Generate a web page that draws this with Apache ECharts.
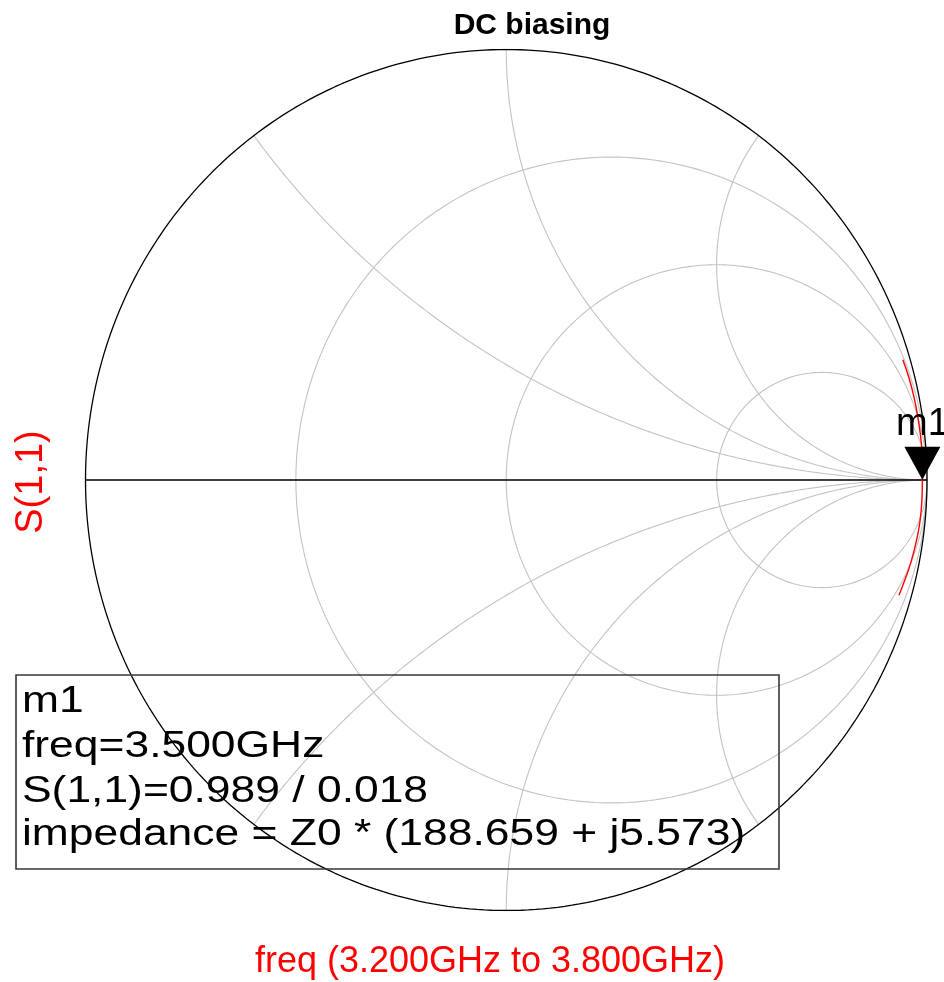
<!DOCTYPE html>
<html>
<head>
<meta charset="utf-8">
<title>DC biasing</title>
<script src="https://cdn.jsdelivr.net/npm/echarts@6/dist/echarts.min.js"></script>
<style>
  html, body { margin: 0; padding: 0; background: #ffffff; }
  #chart { width: 944px; height: 982px; }
</style>
</head>
<body>
<div id="chart"></div>
<script>
// S(1,1) sweep, 3.2 GHz to 3.8 GHz (magnitude, angle in degrees)
const freqGHz   = [3.20, 3.25, 3.30, 3.35, 3.40, 3.45, 3.50, 3.55, 3.60, 3.65, 3.70, 3.75, 3.80];
const s11Mag    = [0.983, 0.986, 0.988, 0.989, 0.990, 0.990, 0.989, 0.989, 0.988, 0.985, 0.981, 0.976, 0.971];
const s11AngDeg = [16.5, 14.0, 11.3, 8.6, 5.8, 2.9, 0.018, -2.8, -5.6, -8.3, -11.0, -13.5, -16.0];

// Marker m1
const markerName    = 'm1';
const markerFreqGHz = 3.5;
const markerMag     = 0.989;
const markerAngDeg  = 0.018;
const markerZ       = [188.659, 5.573];   // normalised impedance, re + j·im

// Smith chart grid: constant-resistance circles and constant-reactance arcs
const resistanceValues = [1 / 3, 1, 3];
const reactanceValues  = [0.5, 1, 2];

// Texts
const chartTitle = 'DC biasing';
const traceName  = 'S(1,1)';
const sweepText  = 'freq (3.200GHz to 3.800GHz)';

// ---------------------------------------------------------------
const deg = Math.PI / 180;
const polarToXY = (m, a) => [m * Math.cos(a * deg), m * Math.sin(a * deg)];

// circle of constant normalised resistance r (centre r/(1+r), radius 1/(1+r))
function resistanceCircle(r) {
  const c = r / (1 + r), R = 1 / (1 + r), pts = [];
  for (let i = 0; i <= 360; i++) {
    const t = i * deg;
    pts.push([c + R * Math.cos(t), R * Math.sin(t)]);
  }
  return pts;
}

// arc of constant normalised reactance x, swept over r = 0 .. infinity
function reactanceArc(x) {
  const pts = [], N = 300;
  for (let i = 0; i < N; i++) {
    const s = i / N, r = s / (1 - s);
    const d = (r + 1) * (r + 1) + x * x;
    pts.push([(r * r + x * x - 1) / d, 2 * x / d]);
  }
  pts.push([1, 0]);
  return pts;
}

const gridColor = '#c3c3c3';
const series = [];

resistanceValues.forEach(r => series.push({
  type: 'line', data: resistanceCircle(r), showSymbol: false, silent: true, z: 1,
  lineStyle: { color: gridColor, width: 1.1 }, animation: false
}));
reactanceValues.forEach(x => [x, -x].forEach(v => series.push({
  type: 'line', data: reactanceArc(v), showSymbol: false, silent: true, z: 1,
  lineStyle: { color: gridColor, width: 1.1 }, animation: false
})));

// outer |Γ| = 1 boundary and the real axis
series.push({
  type: 'line', data: resistanceCircle(0), showSymbol: false, silent: true, z: 2,
  lineStyle: { color: '#000000', width: 1.3 }, animation: false
});
series.push({
  type: 'line', data: [[-1, 0], [1, 0]], showSymbol: false, silent: true, z: 2,
  lineStyle: { color: '#000000', width: 1.4 }, animation: false
});

// measured trace
series.push({
  name: traceName, type: 'line', z: 3, showSymbol: false, smooth: true, animation: false,
  data: freqGHz.map((f, i) => polarToXY(s11Mag[i], s11AngDeg[i])),
  lineStyle: { color: '#ff0000', width: 1.4 }
});

// marker
series.push({
  type: 'scatter', z: 4, animation: false,
  data: [polarToXY(markerMag, markerAngDeg)],
  symbol: 'path://M0,0L20,0L10,18Z', symbolKeepAspect: false,
  symbolSize: [36, 33], symbolOffset: [0, -16.5],
  itemStyle: { color: '#000000', opacity: 1 },
  label: {
    show: true, position: 'top', distance: 3, formatter: markerName,
    color: '#000000', opacity: 1, fontSize: 38, fontFamily: 'Liberation Sans, Arial, sans-serif'
  }
});

const fontFam = 'Liberation Sans, Arial, sans-serif';
const boxLines = [
  markerName,
  'freq=' + markerFreqGHz.toFixed(3) + 'GHz',
  traceName + '=' + markerMag.toFixed(3) + ' / ' + markerAngDeg.toFixed(3),
  'impedance = Z0 * (' + markerZ[0].toFixed(3) + ' + j' + markerZ[1].toFixed(3) + ')'
];
const boxBaselines = [715, 760, 805, 848];

const graphics = [
  {
    type: 'text', x: 532, y: 26, z: 10,
    style: { text: chartTitle, font: 'bold 30px ' + fontFam, fill: '#000', align: 'center', verticalAlign: 'middle' }
  },
  {
    type: 'text', x: 32, y: 482, rotation: Math.PI / 2, z: 10,
    style: { text: traceName, font: '38px ' + fontFam, fill: '#ff0000', align: 'center', verticalAlign: 'middle' }
  },
  {
    type: 'text', x: 490, y: 962, z: 10,
    style: { text: sweepText, font: '36px ' + fontFam, fill: '#ff0000', align: 'center', verticalAlign: 'middle' }
  },
  {
    type: 'rect', z: 9,
    shape: { x: 16, y: 675, width: 763, height: 194 },
    style: { fill: 'none', stroke: '#383838', lineWidth: 1.6 }
  }
];
boxLines.forEach((t, i) => graphics.push({
  type: 'text', x: 22, y: boxBaselines[i] - 12.8, scaleX: 1.2, z: 10,
  style: { text: t, font: '37px ' + fontFam, fill: '#000', align: 'left', verticalAlign: 'middle' }
}));

const chart = echarts.init(document.getElementById('chart'), null, { renderer: 'canvas' });
chart.setOption({
  animation: false,
  backgroundColor: '#ffffff',
  grid: { left: 85.5, top: 49.5, width: 841.5, height: 861, containLabel: false, outerBoundsMode: 'none' },
  xAxis: { type: 'value', min: -1, max: 1, show: false },
  yAxis: { type: 'value', min: -1, max: 1, show: false },
  series: series,
  graphic: graphics
});
</script>
</body>
</html>
